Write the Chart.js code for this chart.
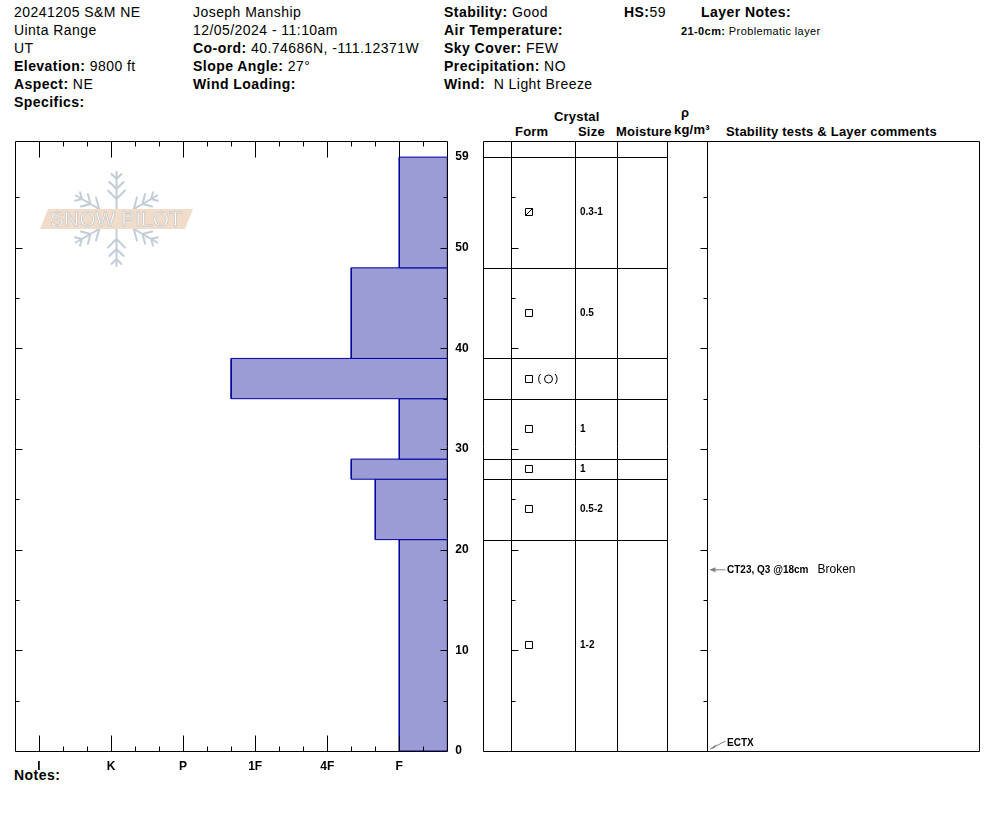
<!DOCTYPE html>
<html>
<head>
<meta charset="utf-8">
<script src="https://cdn.jsdelivr.net/npm/chart.js@4.4.1/dist/chart.umd.min.js"></script>
<style>
  body { margin: 0; background: #fff; font-family: "Liberation Sans", Arial, sans-serif; color: #000; }
  #page { position: relative; width: 994px; height: 840px; overflow: hidden; }
  .t { position: absolute; font-size: 14px; line-height: 18px; letter-spacing: 0.45px; white-space: nowrap; }
  .h { position: absolute; font-size: 13px; font-weight: bold; letter-spacing: 0.2px; white-space: nowrap; }
  canvas { position: absolute; }
</style>
</head>
<body>
<div id="page">
  <div class="t" style="left:14px;top:3px">20241205 S&amp;M NE<br>Uinta Range<br>UT<br><b>Elevation:</b> 9800 ft<br><b>Aspect:</b> NE<br><b>Specifics:</b></div>
  <div class="t" style="left:193px;top:3px">Joseph Manship<br>12/05/2024 - 11:10am<br><b>Co-ord:</b> 40.74686N, -111.12371W<br><b>Slope Angle:</b> 27°<br><b>Wind Loading:</b></div>
  <div class="t" style="left:444px;top:3px"><b>Stability:</b> Good<br><b>Air Temperature:</b><br><b>Sky Cover:</b> FEW<br><b>Precipitation:</b> NO<br><b>Wind:</b>&nbsp; N Light Breeze</div>
  <div class="t" style="left:624px;top:3px"><b>HS:</b>59</div>
  <div class="t" style="left:701px;top:3px"><b>Layer Notes:</b></div>
  <div class="t" style="left:681px;top:22px;font-size:11px;letter-spacing:0.4px"><b>21-0cm:</b> Problematic layer</div>

  <div class="h" style="left:554px;top:109px">Crystal</div>
  <div class="h" style="left:515px;top:124px">Form</div>
  <div class="h" style="left:578px;top:124px">Size</div>
  <div class="h" style="left:616px;top:124px">Moisture</div>
  <div class="h" style="left:681px;top:105px">ρ</div>
  <div class="h" style="left:674px;top:122px">kg/m³</div>
  <div class="h" style="left:726px;top:124px">Stability tests &amp; Layer comments</div>

  <div class="t" style="left:14px;top:766px"><b>Notes:</b></div>

  <canvas id="hardness" width="480" height="660" style="left:0;top:130px"></canvas>
  <canvas id="layers" width="524" height="660" style="left:470px;top:130px"></canvas>
</div>
<script>
// layers, top to bottom (cm)
var layerTop = [59, 48, 39, 35, 29, 27, 21];
var layerBottom = [48, 39, 35, 29, 27, 21, 0];
var hardness = ["F", "4F-", "1F+", "F", "4F-", "F+", "F"];
var crystalForm = ["FCxr", "FC", "FC", "FC", "FC", "FC", "FC"];
var secondaryForm = ["", "", "RG", "", "", "", ""];
var crystalSize = ["0.3-1", "0.5", "", "1", "1", "0.5-2", "1-2"];

var hardnessLabels = ["F", "4F", "1F", "P", "K", "I"];
var heightTicks = [0, 10, 20, 30, 40, 50, 59];

// stability tests
var testDepth = [18, 0];
var testResult = ["CT23, Q3 @18cm", "ECTX"];
var testComment = ["Broken", ""];

var FONT = '"Liberation Sans", Arial, sans-serif';
var HMIN = 1 / 3, HMAX = 6 + 1 / 3, YMAX = 60.6;

function hardVal(code) {
  var base = code.replace(/[+-]$/, "");
  var v = hardnessLabels.indexOf(base) + 1;
  if (code.slice(-1) === "+") v += 1 / 3;
  if (code.slice(-1) === "-") v -= 1 / 3;
  return v;
}

var layerSets = layerTop.map(function (top, i) {
  var h = hardVal(hardness[i]);
  var bot = layerBottom[i];
  return {
    data: [{x: HMIN, y: top}, {x: h, y: top}, {x: h, y: bot}, {x: HMIN, y: bot}, {x: HMIN, y: top}],
    showLine: true,
    fill: "shape",
    backgroundColor: "#9b9bd6",
    borderColor: "#0000a0",
    borderWidth: 1,
    pointRadius: 0,
    tension: 0
  };
});

function drawLogo(c) {
  var cx = 116.5, cy = 89;
  c.save();
  c.strokeStyle = "#c3cdd7";
  c.lineWidth = 2;
  c.lineCap = "round";
  for (var i = 0; i < 6; i++) {
    var a = Math.PI / 2 + i * Math.PI / 3;
    var dx = Math.cos(a), dy = -Math.sin(a);
    c.beginPath();
    c.moveTo(cx + dx * 8, cy + dy * 8);
    c.lineTo(cx + dx * 47, cy + dy * 47);
    [[20, 12], [30, 10], [40, 7]].forEach(function (b) {
      var px = cx + dx * b[0], py = cy + dy * b[0];
      [Math.PI / 4, -Math.PI / 4].forEach(function (r) {
        var bx = dx * Math.cos(r) - dy * Math.sin(r);
        var by = dx * Math.sin(r) + dy * Math.cos(r);
        c.moveTo(px, py);
        c.lineTo(px + bx * b[1], py + by * b[1]);
      });
    });
    c.stroke();
  }
  c.beginPath();
  c.moveTo(40, 99); c.lineTo(48, 79); c.lineTo(193, 79); c.lineTo(185, 99);
  c.closePath();
  c.fillStyle = "#f1dcc9";
  c.fill();
  c.font = "21px " + FONT;
  c.textAlign = "center";
  c.textBaseline = "middle";
  c.fillStyle = "#fff";
  c.strokeStyle = "#c8c8c8";
  c.lineWidth = 0.8;
  c.fillText("SNOW PILOT", 116, 90);
  c.strokeText("SNOW PILOT", 116, 90);
  c.restore();
}

var hardnessFrame = {
  id: "hardnessFrame",
  beforeDatasetsDraw: function (chart) { drawLogo(chart.ctx); },
  afterDatasetsDraw: function (chart) {
    var a = chart.chartArea, xs = chart.scales.x, ys = chart.scales.y, c = chart.ctx;
    var L = Math.round(a.left) + 0.5, R = Math.round(a.right) + 0.5;
    var T = Math.round(a.top) + 0.5, B = Math.round(a.bottom) + 0.5;
    c.save();
    c.strokeStyle = "#000";
    c.lineWidth = 1;
    c.beginPath();
    c.rect(L, T, R - L, B - T);
    for (var k = 2; k <= 18; k++) {
      var px = Math.round(xs.getPixelForValue(k / 3)) + 0.5;
      var len = k % 3 === 0 ? 16 : 5;
      c.moveTo(px, T); c.lineTo(px, T + len);
      c.moveTo(px, B); c.lineTo(px, B - len);
    }
    for (var v = 5; v <= 55; v += 5) {
      var py = Math.round(ys.getPixelForValue(v)) + 0.5;
      var ln = v % 10 === 0 ? 7 : 4;
      c.moveTo(L, py); c.lineTo(L + ln, py);
      c.moveTo(R, py); c.lineTo(R - ln, py);
    }
    c.stroke();
    c.restore();
  }
};

new Chart(document.getElementById("hardness"), {
  type: "scatter",
  data: {datasets: layerSets},
  options: {
    responsive: false,
    animation: false,
    devicePixelRatio: 1,
    layout: {padding: {left: 15, top: 11, right: 0, bottom: 0}},
    plugins: {legend: {display: false}, tooltip: {enabled: false}},
    scales: {
      x: {
        type: "linear", reverse: true, min: HMIN, max: HMAX, position: "bottom",
        grid: {display: false, drawTicks: false},
        border: {display: false},
        afterBuildTicks: function (s) {
          s.ticks = hardnessLabels.map(function (l, i) { return {value: i + 1}; });
        },
        afterFit: function (s) { s.height = 39; s.paddingLeft = 0; s.paddingRight = 0; },
        ticks: {
          autoSkip: false, maxRotation: 0, padding: 8, color: "#000",
          font: {family: FONT, size: 12, weight: "bold"},
          callback: function (v) { return hardnessLabels[Math.round(v) - 1]; }
        }
      },
      y: {
        type: "linear", position: "right", min: 0, max: YMAX,
        grid: {display: false, drawTicks: false},
        border: {display: false},
        afterBuildTicks: function (s) {
          s.ticks = heightTicks.map(function (v) { return {value: v}; });
        },
        afterFit: function (s) { s.width = 32.7; s.paddingTop = 0; s.paddingBottom = 0; },
        ticks: {
          padding: 8, color: "#000",
          font: {family: FONT, size: 12, weight: "bold"}
        }
      }
    }
  },
  plugins: [hardnessFrame]
});

// right-hand table
var colEdges = [0, 28, 92, 134, 184, 224, 496];

var tableDraw = {
  id: "tableDraw",
  afterDatasetsDraw: function (chart) {
    var a = chart.chartArea, xs = chart.scales.x, ys = chart.scales.y, c = chart.ctx;
    function X(v) { return Math.round(xs.getPixelForValue(v)) + 0.5; }
    function Y(v) { return Math.round(ys.getPixelForValue(v)) + 0.5; }
    var T = Math.round(a.top) + 0.5, B = Math.round(a.bottom) + 0.5;
    c.save();
    c.strokeStyle = "#000";
    c.lineWidth = 1;
    c.beginPath();
    c.rect(X(colEdges[0]), T, X(colEdges[6]) - X(colEdges[0]), B - T);
    colEdges.slice(1, 6).forEach(function (e) { c.moveTo(X(e), T); c.lineTo(X(e), B); });
    layerTop.forEach(function (t) { c.moveTo(X(colEdges[0]), Y(t)); c.lineTo(X(colEdges[4]), Y(t)); });
    for (var v = 5; v <= 55; v += 5) {
      var ln = v % 10 === 0 ? 7 : 4;
      c.moveTo(X(colEdges[1]), Y(v)); c.lineTo(X(colEdges[1]) + ln, Y(v));
      c.moveTo(X(colEdges[5]), Y(v)); c.lineTo(X(colEdges[5]) - ln, Y(v));
    }
    c.stroke();

    // crystal forms and sizes
    c.fillStyle = "#000";
    c.textBaseline = "middle";
    layerTop.forEach(function (t, i) {
      var mid = Math.round(ys.getPixelForValue((t + layerBottom[i]) / 2));
      var sx = Math.round(xs.getPixelForValue(colEdges[1] + 14)) + 0.5;
      c.beginPath();
      c.rect(sx, mid - 3.5, 7, 7);
      if (crystalForm[i] === "FCxr") { c.moveTo(sx, mid + 3.5); c.lineTo(sx + 7, mid - 3.5); }
      c.stroke();
      if (secondaryForm[i] === "RG") {
        c.font = "11px " + FONT;
        c.textAlign = "left";
        c.fillText("(", sx + 12, mid);
        c.fillText(")", sx + 29, mid);
        c.beginPath();
        c.arc(sx + 23, mid, 4, 0, Math.PI * 2);
        c.stroke();
      }
      c.font = "bold 10px " + FONT;
      c.textAlign = "left";
      c.fillText(crystalSize[i], xs.getPixelForValue(colEdges[2] + 5), mid);
    });

    // stability tests
    testDepth.forEach(function (d, i) {
      var py = ys.getPixelForValue(d);
      var ax = X(colEdges[5]);
      var ty = py;
      c.strokeStyle = "#808080";
      c.fillStyle = "#808080";
      c.beginPath();
      if (py > a.bottom - 6) {
        ty = py - 8;
        c.moveTo(ax + 18, py - 10); c.lineTo(ax + 3, py - 2);
        c.stroke();
        c.beginPath();
        c.moveTo(ax + 2, py - 1.5); c.lineTo(ax + 9, py - 7); c.lineTo(ax + 7, py - 3); c.closePath();
        c.fill();
      } else {
        c.moveTo(ax + 18, py); c.lineTo(ax + 3, py);
        c.stroke();
        c.beginPath();
        c.moveTo(ax + 2, py); c.lineTo(ax + 8, py - 2.5); c.lineTo(ax + 8, py + 2.5); c.closePath();
        c.fill();
      }
      c.fillStyle = "#000";
      c.textAlign = "left";
      c.font = "bold 10px " + FONT;
      var tx = xs.getPixelForValue(colEdges[5] + 20);
      c.fillText(testResult[i], tx, ty);
      if (testComment[i]) {
        var w = c.measureText(testResult[i]).width;
        c.font = "12px " + FONT;
        c.fillText(testComment[i], tx + w + 9, ty);
      }
    });
    c.restore();
  }
};

new Chart(document.getElementById("layers"), {
  type: "scatter",
  data: {datasets: [{data: [], pointRadius: 0}]},
  options: {
    responsive: false,
    animation: false,
    devicePixelRatio: 1,
    layout: {padding: {left: 13, top: 11, right: 15, bottom: 39}},
    plugins: {legend: {display: false}, tooltip: {enabled: false}},
    scales: {
      x: {type: "linear", min: colEdges[0], max: colEdges[6], display: false},
      y: {type: "linear", min: 0, max: YMAX, display: false}
    }
  },
  plugins: [tableDraw]
});
</script>
</body>
</html>
